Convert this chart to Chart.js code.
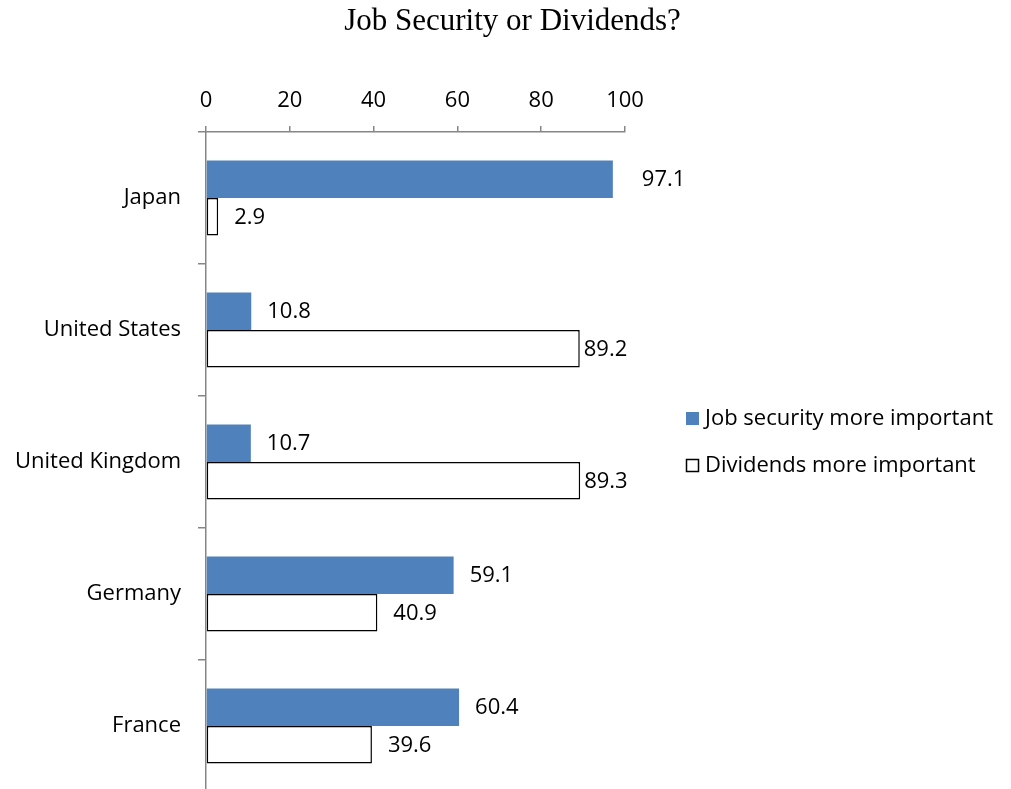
<!DOCTYPE html>
<html>
<head>
<meta charset="utf-8">
<script src="https://cdn.jsdelivr.net/npm/chart.js@4.4.0/dist/chart.umd.min.js"></script>
<style>
  html, body { margin: 0; padding: 0; background: #fff; overflow: hidden; }
</style>
</head>
<body>
<canvas id="chart" width="1011" height="795"></canvas>
<script>
const countries = ['Japan', 'United States', 'United Kingdom', 'Germany', 'France'];
const jobSecurity = [97.1, 10.8, 10.7, 59.1, 60.4];
const dividends = [2.9, 89.2, 89.3, 40.9, 39.6];
const xTicks = [0, 20, 40, 60, 80, 100];

const FONT = '"Open Sans", sans-serif';
const FSIZE = 22;
const AXIS = '#868686';

// algunas etiquetas estan desplazadas a mano en el original
const nudge = { '0-0': 13, '1-1': -12, '1-2': -12 };

// titulo centrado sobre todo el lienzo
const pageTitle = {
  id: 'pageTitle',
  afterDraw(chart) {
    const ctx = chart.ctx;
    ctx.save();
    ctx.font = '31px "Liberation Serif", "Times New Roman", serif';
    ctx.fillStyle = '#000';
    ctx.textAlign = 'center';
    ctx.textBaseline = 'middle';
    ctx.fillText('Job Security or Dividends?', chart.width / 2 + 7, 22);
    ctx.restore();
  }
};

// etiquetas de valor a la derecha de cada barra
const valueLabels = {
  id: 'valueLabels',
  afterDatasetsDraw(chart) {
    const ctx = chart.ctx;
    ctx.save();
    ctx.font = FSIZE + 'px ' + FONT;
    ctx.fillStyle = '#000';
    ctx.textBaseline = 'middle';
    ctx.textAlign = 'left';
    chart.data.datasets.forEach((ds, i) => {
      chart.getDatasetMeta(i).data.forEach((bar, j) => {
        const dx = 16 + (nudge[i + '-' + j] || 0);
        ctx.fillText(ds.data[j].toFixed(1), bar.x + dx, bar.y + 1);
      });
    });
    ctx.restore();
  }
};

// leyenda dibujada a mano
const sideLegend = {
  id: 'sideLegend',
  afterDraw(chart) {
    const ctx = chart.ctx;
    ctx.save();
    ctx.font = FSIZE + 'px ' + FONT;
    ctx.textBaseline = 'middle';
    const rows = [419, 466];
    chart.data.datasets.forEach((ds, i) => {
      const y = rows[i];
      ctx.fillStyle = ds.backgroundColor;
      ctx.fillRect(686, y - 7, 13, 13);
      if (ds.borderWidth) {
        ctx.strokeStyle = ds.borderColor;
        ctx.lineWidth = 1.5;
        ctx.strokeRect(686.5, y - 6.5, 12, 12);
      }
      ctx.fillStyle = '#000';
      ctx.fillText(ds.label, 705, y);
    });
    ctx.restore();
  }
};

new Chart(document.getElementById('chart'), {
  type: 'bar',
  data: {
    labels: countries,
    datasets: [
      {
        label: 'Job security more important',
        data: jobSecurity,
        backgroundColor: '#4F81BD',
        borderWidth: 0,
        categoryPercentage: 0.57,
        barPercentage: 1
      },
      {
        label: 'Dividends more important',
        data: dividends,
        backgroundColor: '#FFFFFF',
        borderColor: '#000000',
        borderWidth: 1.5,
        borderSkipped: false,
        categoryPercentage: 0.57,
        barPercentage: 1
      }
    ]
  },
  options: {
    indexAxis: 'y',
    responsive: false,
    animation: false,
    layout: { padding: { left: 0, right: 386, top: 48, bottom: 3 } },
    plugins: {
      legend: { display: false },
      tooltip: { enabled: false },
      title: { display: false }
    },
    scales: {
      x: {
        position: 'top',
        min: 0,
        max: 100,
        afterBuildTicks: s => { s.ticks = xTicks.map(v => ({ value: v })); },
        afterFit: s => { s.height = 84; },
        grid: { drawOnChartArea: false, color: AXIS, tickLength: 6, lineWidth: 1.5 },
        border: { color: AXIS, width: 1.5 },
        ticks: { color: '#000', font: { family: FONT, size: FSIZE }, padding: 12, maxRotation: 0 }
      },
      y: {
        afterFit: s => { s.width = 206; s.paddingTop = 0; s.paddingBottom = 0; },
        grid: { offset: true, drawOnChartArea: false, color: AXIS, tickLength: 8, lineWidth: 1.5 },
        border: { color: AXIS, width: 1.5 },
        ticks: { color: '#000', font: { family: FONT, size: FSIZE }, padding: 17 }
      }
    }
  },
  plugins: [valueLabels, sideLegend, pageTitle]
});
</script>
</body>
</html>
